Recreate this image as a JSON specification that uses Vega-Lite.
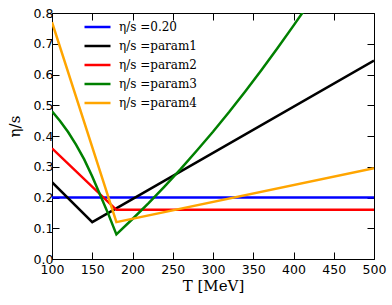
{
  "$schema": "https://vega.github.io/schema/vega-lite/v6.json",
  "width": 322,
  "height": 246,
  "autosize": "none",
  "padding": {"left": 52, "top": 13, "right": 18, "bottom": 46},
  "background": "white",
  "config": {
    "view": {"stroke": null},
    "axis": {
      "grid": false,
      "domainColor": "black",
      "domainWidth": 1,
      "tickColor": "black",
      "tickWidth": 1,
      "tickSize": -7,
      "labelColor": "black",
      "labelFont": "DejaVu Sans",
      "labelFontSize": 12.5,
      "labelFlush": false,
      "labelOverlap": false,
      "titleFont": "DejaVu Serif",
      "titleFontWeight": "normal",
      "titleFontSize": 15,
      "titleColor": "black"
    }
  },
  "data": {
    "values": [
      {"series": "η/s =0.20", "T": 100, "eta": 0.2},
      {"series": "η/s =0.20", "T": 500, "eta": 0.2},
      {"series": "η/s =param1", "T": 100, "eta": 0.25},
      {"series": "η/s =param1", "T": 150, "eta": 0.12},
      {"series": "η/s =param1", "T": 500, "eta": 0.645},
      {"series": "η/s =param2", "T": 100, "eta": 0.36},
      {"series": "η/s =param2", "T": 180, "eta": 0.16},
      {"series": "η/s =param2", "T": 500, "eta": 0.16},
      {"series": "η/s =param3", "T": 100, "eta": 0.48},
      {"series": "η/s =param3", "T": 110, "eta": 0.449},
      {"series": "η/s =param3", "T": 120, "eta": 0.413},
      {"series": "η/s =param3", "T": 130, "eta": 0.371},
      {"series": "η/s =param3", "T": 140, "eta": 0.324},
      {"series": "η/s =param3", "T": 150, "eta": 0.268},
      {"series": "η/s =param3", "T": 160, "eta": 0.207},
      {"series": "η/s =param3", "T": 170, "eta": 0.146},
      {"series": "η/s =param3", "T": 180, "eta": 0.08},
      {"series": "η/s =param3", "T": 200, "eta": 0.13},
      {"series": "η/s =param3", "T": 220, "eta": 0.182},
      {"series": "η/s =param3", "T": 240, "eta": 0.2365},
      {"series": "η/s =param3", "T": 260, "eta": 0.293},
      {"series": "η/s =param3", "T": 280, "eta": 0.353},
      {"series": "η/s =param3", "T": 300, "eta": 0.414},
      {"series": "η/s =param3", "T": 320, "eta": 0.478},
      {"series": "η/s =param3", "T": 340, "eta": 0.545},
      {"series": "η/s =param3", "T": 360, "eta": 0.614},
      {"series": "η/s =param3", "T": 380, "eta": 0.685},
      {"series": "η/s =param3", "T": 400, "eta": 0.759},
      {"series": "η/s =param3", "T": 420, "eta": 0.834},
      {"series": "η/s =param4", "T": 100, "eta": 0.77},
      {"series": "η/s =param4", "T": 180, "eta": 0.12},
      {"series": "η/s =param4", "T": 500, "eta": 0.295}
    ]
  },
  "layer": [
    {
      "mark": {"type": "line", "strokeWidth": 2.5, "clip": true},
      "encoding": {
        "x": {
          "field": "T", "type": "quantitative",
          "scale": {"domain": [100, 500], "nice": false, "zero": false},
          "axis": {"orient": "bottom", "values": [100, 150, 200, 250, 300, 350, 400, 450, 500], "title": "T [MeV]", "labelPadding": 11, "titlePadding": 3}
        },
        "y": {
          "field": "eta", "type": "quantitative",
          "scale": {"domain": [0, 0.8], "nice": false},
          "axis": {"orient": "left", "values": [0, 0.1, 0.2, 0.3, 0.4, 0.5, 0.6, 0.7, 0.8], "format": ".1f", "title": "η/s", "labelPadding": 6, "titleX": -30, "titleY": 113}
        },
        "color": {
          "field": "series", "type": "nominal",
          "scale": {
            "domain": ["η/s =0.20", "η/s =param1", "η/s =param2", "η/s =param3", "η/s =param4"],
            "range": ["#0000ff", "#000000", "#ff0000", "#008000", "#ffa500"]
          },
          "legend": {
            "title": null,
            "orient": "none",
            "legendX": 37.5,
            "legendY": 6,
            "padding": 0,
            "symbolType": "M-2,0H2",
            "symbolSize": 169,
            "symbolStrokeWidth": 2.5,
            "labelOffset": 13.5,
            "rowPadding": 5,
            "labelFont": "DejaVu Serif",
            "labelFontSize": 12,
            "labelColor": "black"
          }
        }
      }
    },
    {
      "mark": {"type": "line", "opacity": 0},
      "encoding": {
        "x": {
          "field": "T", "type": "quantitative",
          "axis": {"orient": "top", "values": [100, 150, 200, 250, 300, 350, 400, 450, 500], "labels": false, "title": null}
        },
        "y": {
          "field": "eta", "type": "quantitative",
          "axis": {"orient": "right", "values": [0, 0.1, 0.2, 0.3, 0.4, 0.5, 0.6, 0.7, 0.8], "labels": false, "title": null}
        },
        "detail": {"field": "series"}
      }
    }
  ]
}
